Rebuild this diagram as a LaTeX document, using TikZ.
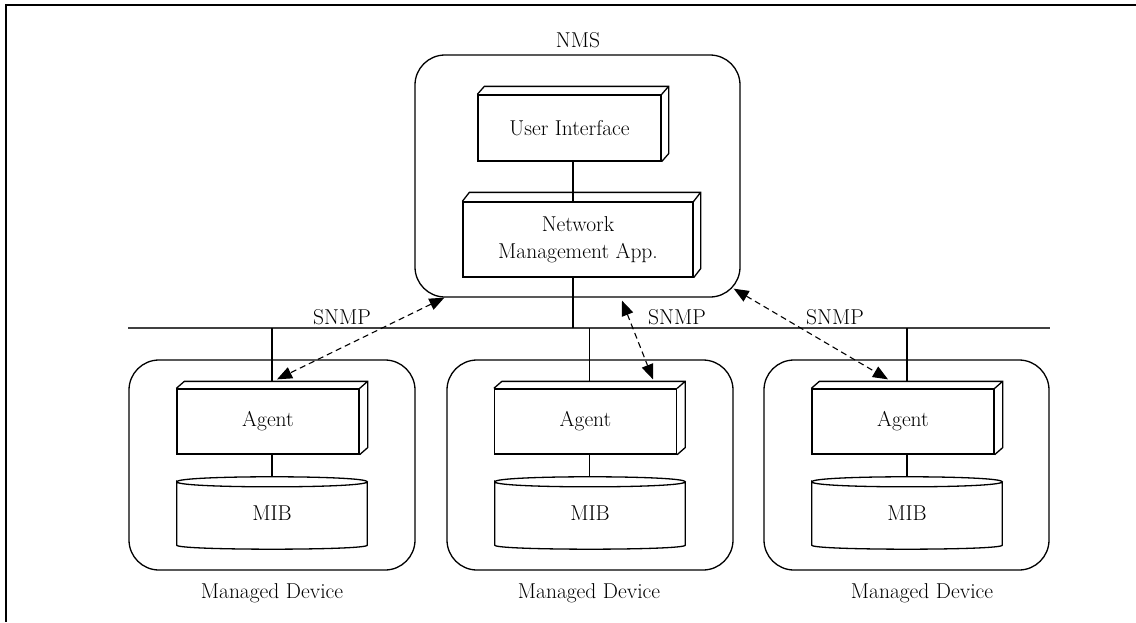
\documentclass[tikz,border=0pt]{standalone}
\usetikzlibrary{arrows.meta,calc}
\newcommand\depthface[3]{%
  \draw[ln, line join=miter] (#1.north west) -- ++(#2,-#3) -- ($(#1.north east)+(#2,-#3)$) -- ($(#1.south east)+(#2,-#3)$) -- (#1.south east)
    (#1.north east) -- ($(#1.north east)+(#2,-#3)$);}
\newcommand\mibcyl[1]{%
  \draw[ln] ($(#1.north west)+(0,5)$) .. controls +(0,-6.7) and +(0,-6.7) .. ($(#1.north east)+(0,5)$)
    .. controls +(0,6.7) and +(0,6.7) .. ($(#1.north west)+(0,5)$)
    -- ($(#1.south west)+(0,-4)$) .. controls +(0,5.3) and +(0,5.3) .. ($(#1.south east)+(0,-4)$)
    -- ($(#1.north east)+(0,5)$);}
\begin{document}
\begin{tikzpicture}[x=1pt,y=-1pt,
  every node/.style={font=\fontsize{21.5}{27}\selectfont, text=black},
  ln/.style={line width=1.3pt},
  box/.style={draw, line width=1.3pt, inner sep=0pt, align=center},
  rbox/.style={draw, line width=1.3pt, rounded corners=30pt, inner sep=0pt},
  agentbox/.style={box, minimum width=182, minimum height=65},
  mibnode/.style={inner sep=0pt, minimum width=190, minimum height=72},
  dashar/.style={line width=1.1pt, dash pattern=on 6pt off 4pt,
     {Triangle[length=15pt,width=12pt]}-{Triangle[length=15pt,width=12pt]}}]
\useasboundingbox (0,0) rectangle (1136,622);
% frame
\coordinate (fr0) at (1136,5);
\coordinate (fr1) at (6,5);
\coordinate (fr2) at (6,622);
\draw[line width=1.8pt] (fr0) -- (fr1) -- (fr2);

% NMS
\node (nmslabel) at (578,40) {NMS};
\node[rbox, minimum width=325, minimum height=242] (nms) at (577.5,176) {};
\node[box, minimum width=183, minimum height=66] (ui) at (569.5,128) {User Interface};
\depthface{ui}{7}{8}
\node[box, minimum width=230, minimum height=75] (nma) at (578,239.5) {Network\\Management App.};
\depthface{nma}{7}{9}
\coordinate (uib) at ($(ui.south)+(3.5,0)$);
\draw[ln] (uib) -- (uib |- nma.north);

% bus
\coordinate (busL) at (128,328);
\coordinate (busR) at (1050,328);
\draw[line width=1.5pt, black!75] (busL) -- (busR);
\coordinate (nmab) at ($(nma.south)+(-5,0)$);
\draw[ln] (nmab) -- (nmab |- busL);

\node (snmp1) at (342,317) {SNMP};
\node (snmp2) at (677,317) {SNMP};
\node (snmp3) at (835,317) {SNMP};

% devices
\node[rbox, minimum width=286, minimum height=210] (dev1) at (272,465) {};
\node[rbox, minimum width=286, minimum height=210] (dev2) at (590,465) {};
\node[rbox, minimum width=285, minimum height=210] (dev3) at (906.5,465) {};

\node[agentbox] (agent1) at (268,421.5) {Agent};
\node[agentbox] (agent2) at (585.5,421.5) {Agent};
\node[agentbox] (agent3) at (903,421.5) {Agent};
\depthface{agent1}{8}{7}
\depthface{agent2}{8}{7}
\depthface{agent3}{8}{7}

\node[mibnode] (mib1) at (272,513) {MIB};
\node[mibnode] (mib2) at (590,513) {MIB};
\node[mibnode] (mib3) at (907,513) {MIB};
\mibcyl{mib1}
\mibcyl{mib2}
\mibcyl{mib3}

\foreach \i in {1,2,3}{
  \coordinate (at\i) at ($(agent\i.north)+(4,-7)$);
  \draw[ln] (at\i) -- (at\i |- busL);
  \coordinate (ab\i) at ($(agent\i.south)+(4,0)$);
  \draw[ln] (ab\i) -- (ab\i |- mib\i.north);
}

\node (md1) at (272,593) {Managed Device};
\node (md2) at (589,593) {Managed Device};
\node (md3) at (922,593) {Managed Device};

% SNMP dashed arrows
\draw[dashar] ($(nms.south west)+(30,0)$) -- ($(agent1.north)+(9,-9)$);
\draw[dashar] ($(nms.south)+(44.5,3)$) -- ($(agent2.north)+(67.5,-9)$);
\draw[dashar] ($(nms.south east)+(-7,-9)$) -- ($(agent3.north)+(-15,-9)$);
\end{tikzpicture}
\end{document}
